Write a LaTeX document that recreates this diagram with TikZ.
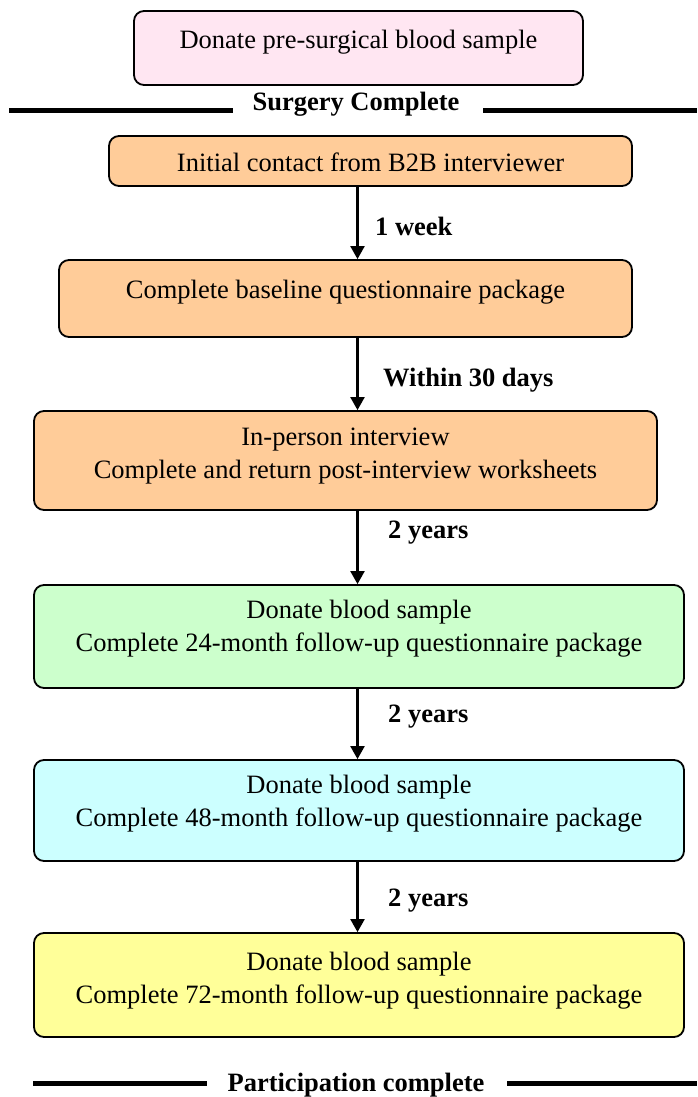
\documentclass[tikz,border=0pt]{standalone}
\usepackage{fontspec}
\setmainfont{Liberation Serif}
\usetikzlibrary{arrows.meta}
\definecolor{pinkfill}{RGB}{255,230,242}
\definecolor{orangefill}{RGB}{255,204,153}
\definecolor{greenfill}{RGB}{204,255,204}
\definecolor{cyanfill}{RGB}{204,255,255}
\definecolor{yellowfill}{RGB}{255,255,153}
\tikzset{
  stagebox/.style={draw=black, line width=1.8pt, rounded corners=10pt, inner sep=0pt},
  boxtext/.style={align=center, inner sep=0pt, font=\fontsize{26.5}{33}\selectfont},
  steplabel/.style={anchor=west, inner sep=0pt, font=\fontsize{26.5}{33}\selectfont\bfseries},
  seplabel/.style={inner sep=0pt, font=\fontsize{26.5}{33}\selectfont\bfseries},
  sepline/.style={line width=5pt},
  arr/.style={line width=2.2pt, -{Triangle[width=14pt,length=13pt]}},
}
\begin{document}
\begin{tikzpicture}[x=1pt,y=-1pt]
\useasboundingbox (0,0) rectangle (697,1097);
% boxes
\node[stagebox, fill=pinkfill, minimum width=449pt, minimum height=74pt] (b0) at (358.5,48) {};
\node[boxtext] (t0) at (358.5,42) {Donate pre-surgical blood sample};

\node[stagebox, fill=orangefill, minimum width=523pt, minimum height=50pt] (b1) at (370.5,161) {};
\node[boxtext] (t1) at (370.5,162) {Initial contact from B2B interviewer};

\node[stagebox, fill=orangefill, minimum width=573pt, minimum height=77pt] (b2) at (345.5,298.5) {};
\node[boxtext] (t2) at (345.5,292) {Complete baseline questionnaire package};

\node[stagebox, fill=orangefill, minimum width=623pt, minimum height=99pt] (b3) at (345.5,460.5) {};
\node[boxtext] (t3) at (345.5,456) {In-person interview\\Complete and return post-interview worksheets};

\node[stagebox, fill=greenfill, minimum width=650pt, minimum height=103pt] (b4) at (359,636.5) {};
\node[boxtext] (t4) at (359,629) {Donate blood sample\\Complete 24-month follow-up questionnaire package};

\node[stagebox, fill=cyanfill, minimum width=650pt, minimum height=101pt] (b5) at (359,810.5) {};
\node[boxtext] (t5) at (359,804) {Donate blood sample\\Complete 48-month follow-up questionnaire package};

\node[stagebox, fill=yellowfill, minimum width=650pt, minimum height=104pt] (b6) at (359,985) {};
\node[boxtext] (t6) at (359,981) {Donate blood sample\\Complete 72-month follow-up questionnaire package};

% arrows
\coordinate (ax) at (357.5,0);
\draw[arr] (b1.south -| ax) -- (b2.north -| ax);
\draw[arr] (b2.south -| ax) -- (b3.north -| ax);
\draw[arr] (b3.south -| ax) -- (b4.north -| ax);
\draw[arr] (b4.south -| ax) -- (b5.north -| ax);
\draw[arr] (b5.south -| ax) -- (b6.north -| ax);

% arrow labels
\node[steplabel] (l1) at (375,226) {1 week};
\node[steplabel] (l2) at (383,380) {Within 30 days};
\node[steplabel] (l3) at (388,533) {2 years};
\node[steplabel] (l4) at (388,717) {2 years};
\node[steplabel] (l5) at (388,901) {2 years};

% separators
\node[seplabel] (s1) at (356,104) {Surgery Complete};
\coordinate (s1a) at (9,110.5);
\coordinate (s1b) at (233,110.5);
\coordinate (s1c) at (483,110.5);
\coordinate (s1d) at (697,110.5);
\draw[sepline] (s1a) -- (s1b);
\draw[sepline] (s1c) -- (s1d);

\node[seplabel] (s2) at (356,1085) {Participation complete};
\coordinate (s2a) at (33,1083);
\coordinate (s2b) at (207,1083);
\coordinate (s2c) at (507,1083);
\coordinate (s2d) at (697,1083);
\draw[sepline] (s2a) -- (s2b);
\draw[sepline] (s2c) -- (s2d);
\end{tikzpicture}
\end{document}
